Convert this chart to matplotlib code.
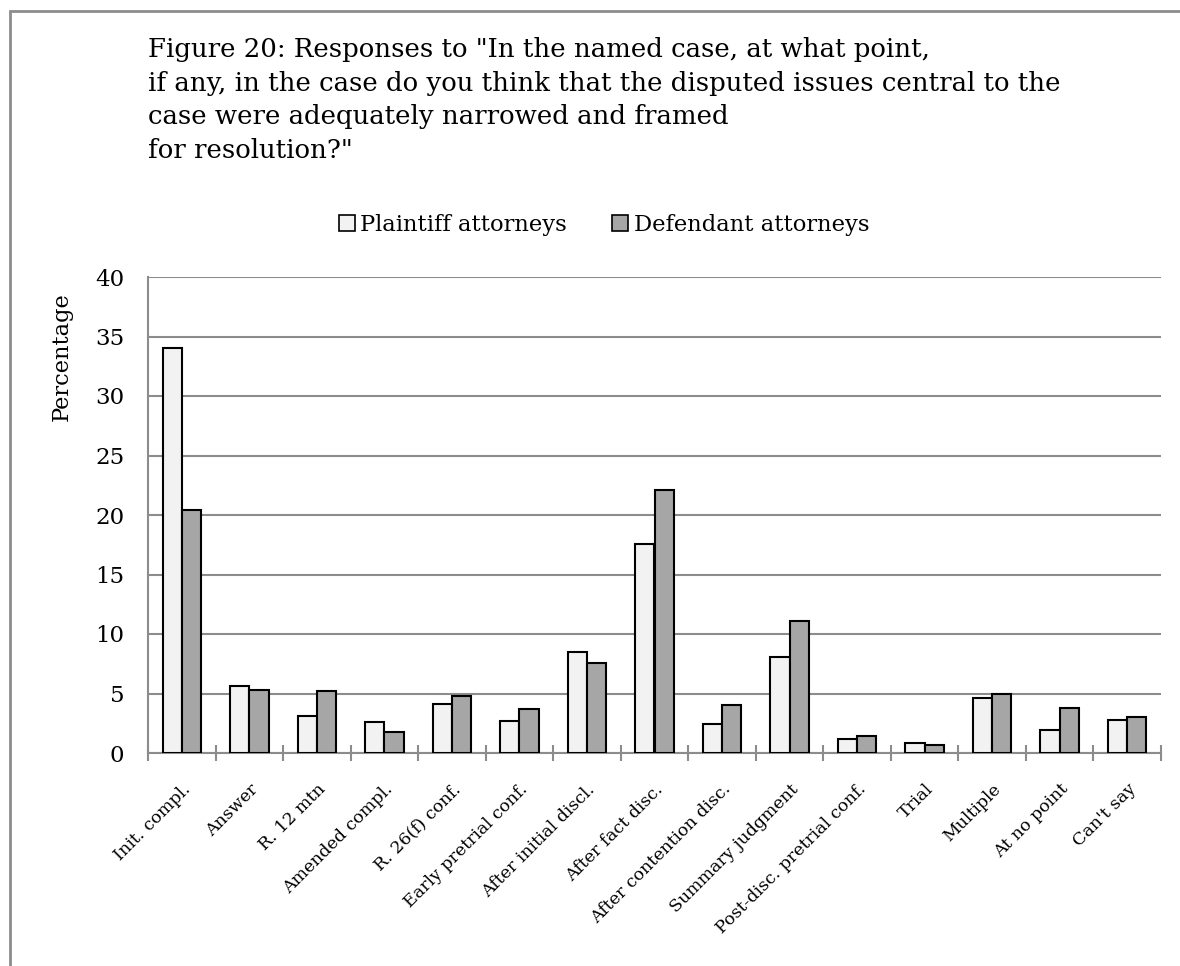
import matplotlib
matplotlib.use("Agg")
import matplotlib.pyplot as plt
from matplotlib.patches import Rectangle, Patch
import numpy as np

plt.rcParams['font.family'] = ['DejaVu Serif']

categories = ["Init. compl.", "Answer", "R. 12 mtn", "Amended compl.", "R. 26(f) conf.",
              "Early pretrial conf.", "After initial discl.", "After fact disc.",
              "After contention disc.", "Summary judgment", "Post-disc. pretrial conf.",
              "Trial", "Multiple", "At no point", "Can't say"]
plaintiff = [34.0, 5.6, 3.1, 2.6, 4.1, 2.7, 8.5, 17.6, 2.4, 8.1, 1.2, 0.8, 4.6, 1.9, 2.8]
defendant = [20.4, 5.3, 5.2, 1.8, 4.8, 3.7, 7.6, 22.1, 4.0, 11.1, 1.4, 0.7, 5.0, 3.8, 3.0]
series_names = ["Plaintiff attorneys", "Defendant attorneys"]
y_ticks = [0, 5, 10, 15, 20, 25, 30, 35, 40]

title = ('Figure 20: Responses to "In the named case, at what point,\n'
         'if any, in the case do you think that the disputed issues central to the\n'
         'case were adequately narrowed and framed\n'
         'for resolution?"')

W, H = 1180, 966
fig = plt.figure(figsize=(W / 100, H / 100), dpi=100)
ax = fig.add_axes([148 / W, 1 - 753 / H, (1161 - 148) / W, (753 - 277) / H])

grey = '#8c8c8c'
c_plain = '#f2f2f2'
c_def = '#a6a6a6'

x = np.arange(len(categories))
bw = 0.285
ax.bar(x - bw / 2, plaintiff, bw, color=c_plain, edgecolor='black', linewidth=1.5, zorder=3)
ax.bar(x + bw / 2, defendant, bw, color=c_def, edgecolor='black', linewidth=1.5, zorder=3)

ax.set_xlim(-0.5, len(categories) - 0.5)
ax.set_ylim(0, 40)
ax.set_yticks(y_ticks)
ax.set_yticklabels([str(v) for v in y_ticks], fontsize=16.5)
ax.tick_params(axis='y', length=0, pad=17)
ax.yaxis.grid(True, color=grey, linewidth=1.5, zorder=0)
ax.set_axisbelow(True)

# category boundary ticks crossing the x axis
ax.set_xticks(np.arange(len(categories) + 1) - 0.5)
ax.set_xticklabels([])
ax.tick_params(axis='x', direction='inout', length=12, width=1.5, color=grey)
ax.set_xticks(x, minor=True)
ax.set_xticklabels(categories, minor=True, rotation=45, ha='right',
                   rotation_mode='anchor', fontsize=12.5)
ax.tick_params(axis='x', which='minor', length=0, pad=20)

for side in ['top', 'right']:
    ax.spines[side].set_visible(False)
for side in ['left', 'bottom']:
    ax.spines[side].set_color(grey)
    ax.spines[side].set_linewidth(1.5)

fig.text(148 / W, 1 - 37 / H, title, fontsize=18.7, ha='left', va='top', linespacing=1.43)
fig.text(62 / W, 1 - 357 / H, 'Percentage', rotation=90, ha='center', va='center', fontsize=16.2)

handles = [Patch(facecolor=c_plain, edgecolor='black', linewidth=1.2),
           Patch(facecolor=c_def, edgecolor='black', linewidth=1.2)]
fig.legend(handles, series_names, loc='center', bbox_to_anchor=(604 / W, 1 - 225 / H),
           ncol=2, frameon=False, fontsize=16.3, handlelength=0.7, handleheight=0.7,
           handletextpad=0.25, columnspacing=2.0)

fig.patches.append(Rectangle((10 / W, -0.1), 1.2, 1.1 - 11 / H, transform=fig.transFigure,
                             fill=False, edgecolor=grey, linewidth=2))

fig.savefig('out.png', dpi=100)
